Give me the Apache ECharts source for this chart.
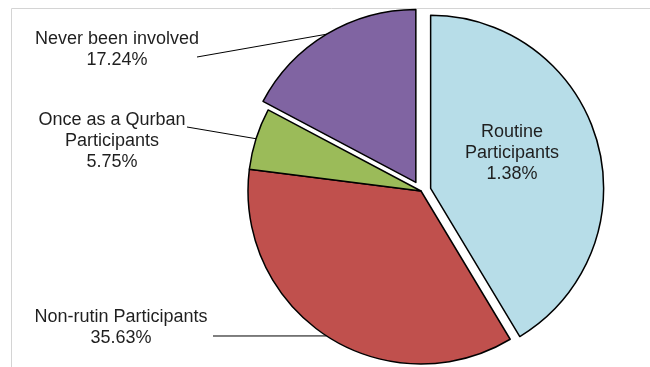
<!DOCTYPE html>
<html>
<head>
<meta charset="utf-8">
<title>Qurban participation</title>
<script src="https://cdn.jsdelivr.net/npm/echarts@6/dist/echarts.min.js"></script>
<style>
  html, body { margin: 0; padding: 0; background: #fff; }
  #chart { width: 650px; height: 367px; }
</style>
</head>
<body>
<div id="chart"></div>
<script>
/***** data *****/
var categories = ['Routine\nParticipants', 'Non-rutin Participants', 'Once as a Qurban\nParticipants', 'Never been involved'];
var values = [41.38, 35.63, 5.75, 17.24];
var percentLabels = ['1.38%', '35.63%', '5.75%', '17.24%']; // as printed on the picture
var colors = ['#b7dde8', '#c0504d', '#9bbb59', '#8064a2'];
var exploded = [true, false, false, true];

/***** layout *****/
var pieCenter = [421, 191];
var pieRadius = 173;
var explodeOffset = 10;
// centre of each text block, and where its leader line stops
var labelPos = [[512, 153], [121, 328], [112, 141], [117, 50]];
var lineEnd = [null, [213, 336], [187, 127], [197, 57]];

var myChart = echarts.init(document.getElementById('chart'));

var sliceData = [];
var labelData = [];
for (var i = 0; i < values.length; i++) {
	sliceData.push({
		name: categories[i],
		value: values[i],
		selected: exploded[i],
		itemStyle: { color: colors[i] }
	});
	labelData.push({
		name: categories[i],
		value: values[i],
		label: { position: i === 0 ? 'inside' : 'outside' },
		labelLine: { show: i !== 0 }
	});
}

var option = {
	animation: false,
	graphic: [{
		type: 'rect',
		shape: { x: 11.5, y: 8.5, width: 700, height: 400 },
		style: { fill: 'none', stroke: '#d4d4d4', lineWidth: 1 },
		silent: true
	}],
	series: [{
		// visible slices
		type: 'pie',
		center: pieCenter,
		radius: pieRadius,
		startAngle: 90,
		clockwise: true,
		selectedMode: 'multiple',
		selectedOffset: explodeOffset,
		emphasis: { disabled: true },
		itemStyle: { borderColor: '#000', borderWidth: 1.5 },
		label: { show: false },
		labelLine: { show: false },
		data: sliceData
	}, {
		// same pie, invisible, only carries the labels
		type: 'pie',
		silent: true,
		center: pieCenter,
		radius: pieRadius,
		startAngle: 90,
		clockwise: true,
		emphasis: { disabled: true },
		itemStyle: { color: 'rgba(0,0,0,0)', borderWidth: 0 },
		label: {
			show: true,
			color: '#1f1f1f',
			fontFamily: 'Liberation Sans, Arial, sans-serif',
			fontSize: 18,
			lineHeight: 21,
			align: 'center',
			overflow: 'none',
			formatter: function (p) {
				return p.name + '\n' + percentLabels[p.dataIndex];
			}
		},
		labelLine: {
			show: true,
			length: 10,
			length2: 10,
			lineStyle: { color: '#000', width: 1 }
		},
		labelLayout: function (p) {
			var pos = labelPos[p.dataIndex];
			var res = { x: pos[0], y: pos[1], align: 'center', verticalAlign: 'middle' };
			var end = lineEnd[p.dataIndex];
			if (end && p.labelLinePoints) {
				var a = p.labelLinePoints[0];
				if (exploded[p.dataIndex]) {
					var dx = a[0] - pieCenter[0], dy = a[1] - pieCenter[1];
					var d = Math.sqrt(dx * dx + dy * dy);
					a = [a[0] + dx / d * explodeOffset, a[1] + dy / d * explodeOffset];
				}
				res.labelLinePoints = [a, end, end];
			}
			return res;
		},
		data: labelData
	}]
};

myChart.setOption(option);
</script>
</body>
</html>
